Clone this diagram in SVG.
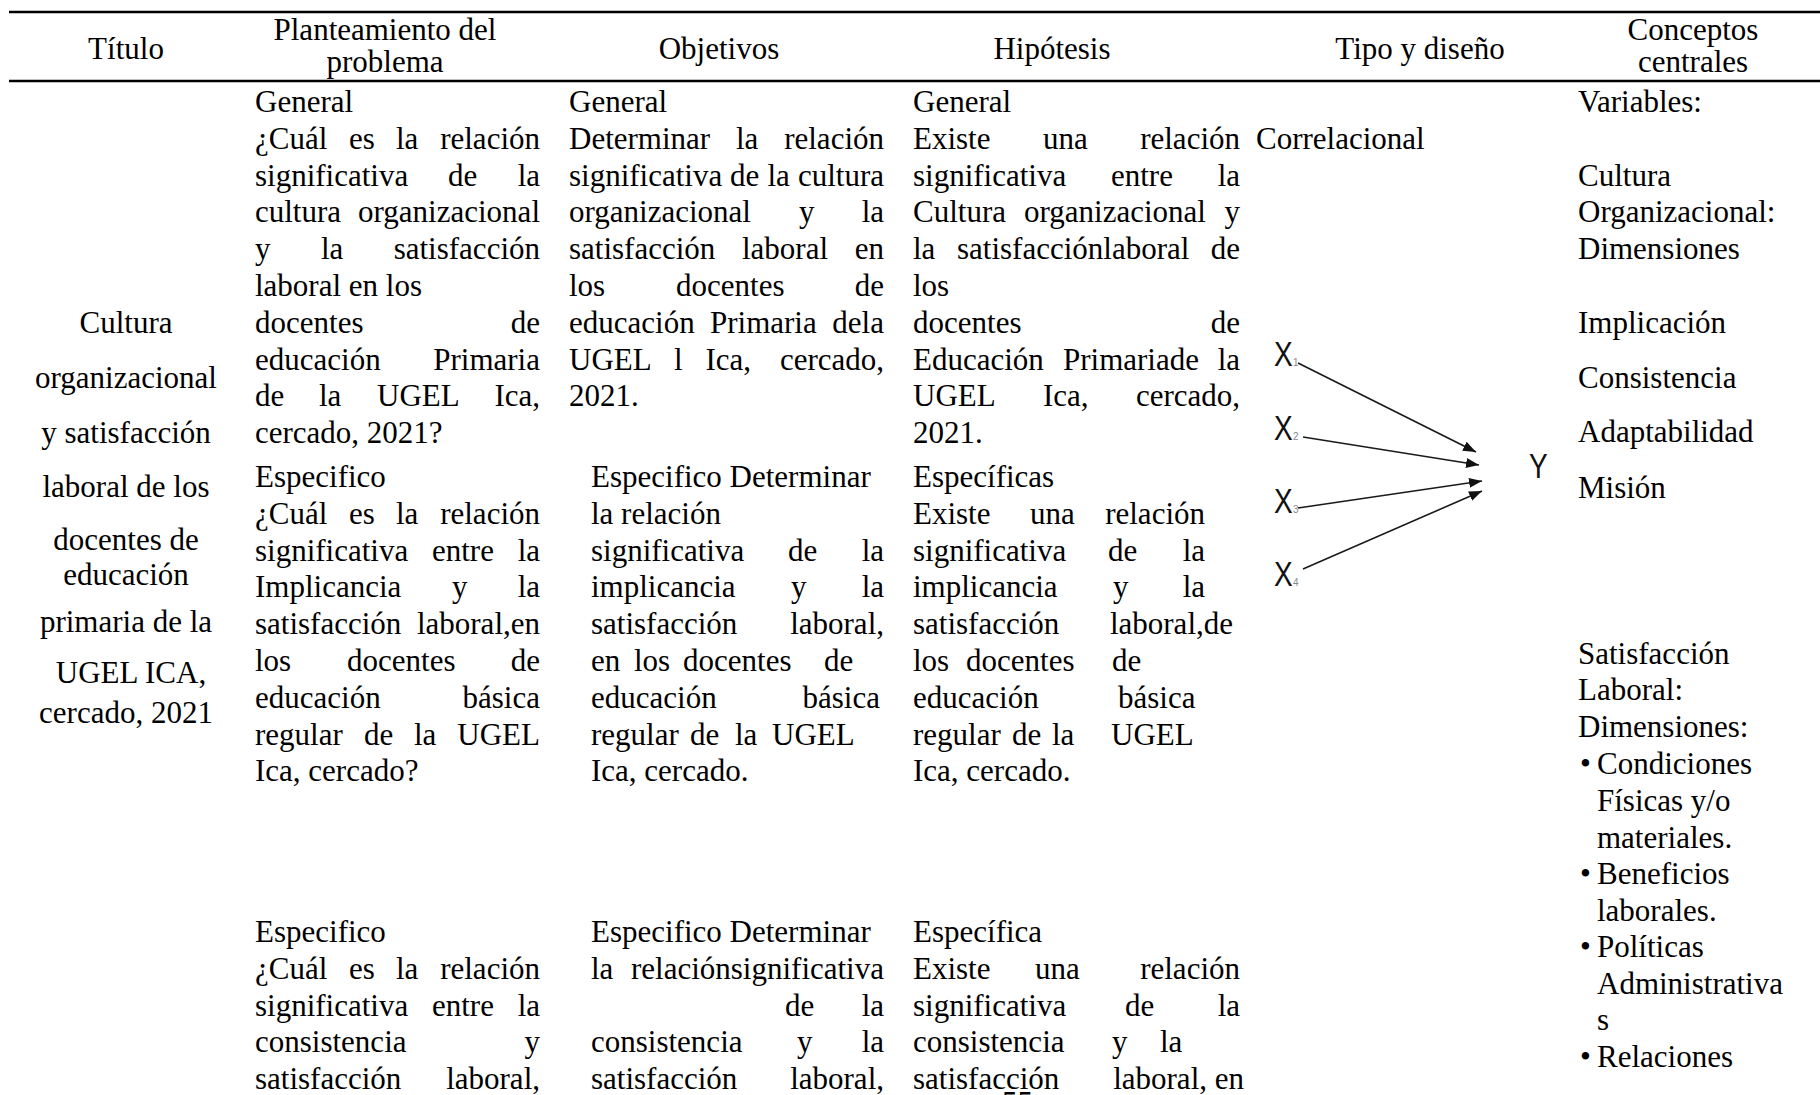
<svg xmlns="http://www.w3.org/2000/svg" width="1820" height="1095" viewBox="0 0 1820 1095">
<style>
.t{font-family:"Liberation Serif","Times New Roman",serif;font-size:31px;fill:#000}
.m{text-anchor:middle}
.e{text-anchor:end}
.x{font-family:"Liberation Sans",Arial,sans-serif;font-size:35px;fill:#111}
.s{font-family:"Liberation Sans",Arial,sans-serif;font-size:10px;fill:#888}
.rule{stroke:#000;stroke-width:2.5}
.arr{stroke:#1a1a1a;stroke-width:1.6;fill:none;marker-end:url(#ah)}
</style>
<defs>
<marker id="ah" markerUnits="userSpaceOnUse" markerWidth="13" markerHeight="10" refX="13" refY="5" orient="auto">
<path d="M0,0 L13,5 L0,10 z" fill="#111"/>
</marker>
</defs>
<rect width="1820" height="1095" fill="#fff"/>
<g id="rules">
<line class="rule" x1="9" y1="12" x2="1820" y2="12"/>
<line class="rule" x1="9" y1="81" x2="1820" y2="81"/>
</g>
<g id="header">
<text class="t m" x="126" y="59">Título</text>
<text class="t m" x="385" y="40">Planteamiento del</text>
<text class="t m" x="385" y="72">problema</text>
<text class="t m" x="719" y="59">Objetivos</text>
<text class="t m" x="1052" y="59">Hipótesis</text>
<text class="t m" x="1420" y="59">Tipo y diseño</text>
<text class="t m" x="1693" y="40">Conceptos</text>
<text class="t m" x="1693" y="72">centrales</text>
</g>
<g id="titulo">
<text class="t m" x="126" y="333">Cultura</text>
<text class="t m" x="126" y="388">organizacional</text>
<text class="t m" x="126" y="443">y satisfacción</text>
<text class="t m" x="126" y="497">laboral de los</text>
<text class="t m" x="126" y="550">docentes de</text>
<text class="t m" x="126" y="585">educación</text>
<text class="t m" x="126" y="632">primaria de la</text>
<text class="t m" x="131" y="683">UGEL ICA,</text>
<text class="t m" x="126" y="723">cercado, 2021</text>
</g>
<g id="planteamiento-general">
<text class="t" x="255" y="112">General</text>
<text class="t" y="148.8"><tspan x="255">¿Cuál</tspan><tspan x="349">es</tspan><tspan x="396">la</tspan></text><text class="t e" x="540" y="148.8">relación</text>
<text class="t" y="185.6"><tspan x="255">significativa</tspan><tspan x="448">de</tspan></text><text class="t e" x="540" y="185.6">la</text>
<text class="t" x="255" y="222.4">cultura</text><text class="t e" x="540" y="222.4">organizacional</text>
<text class="t" y="259.2"><tspan x="255">y</tspan><tspan x="321">la</tspan></text><text class="t e" x="540" y="259.2">satisfacción</text>
<text class="t" x="255" y="296">laboral en los</text>
<text class="t" x="255" y="332.8">docentes</text><text class="t e" x="540" y="332.8">de</text>
<text class="t" x="255" y="369.6">educación</text><text class="t e" x="540" y="369.6">Primaria</text>
<text class="t" y="406.4"><tspan x="255">de</tspan><tspan x="319">la</tspan><tspan x="377">UGEL</tspan></text><text class="t e" x="540" y="406.4">Ica,</text>
<text class="t" x="255" y="443.2">cercado, 2021?</text>
</g>
<g id="planteamiento-especifico-1">
<text class="t" x="255" y="487">Especifico</text>
<text class="t" y="523.8"><tspan x="255">¿Cuál</tspan><tspan x="349">es</tspan><tspan x="396">la</tspan></text><text class="t e" x="540" y="523.8">relación</text>
<text class="t" y="560.6"><tspan x="255">significativa</tspan><tspan x="432">entre</tspan></text><text class="t e" x="540" y="560.6">la</text>
<text class="t" y="597.4"><tspan x="255">Implicancia</tspan><tspan x="452">y</tspan></text><text class="t e" x="540" y="597.4">la</text>
<text class="t" x="255" y="634.2">satisfacción</text><text class="t e" x="540" y="634.2">laboral,en</text>
<text class="t" y="671"><tspan x="255">los</tspan><tspan x="347">docentes</tspan></text><text class="t e" x="540" y="671">de</text>
<text class="t" x="255" y="707.8">educación</text><text class="t e" x="540" y="707.8">básica</text>
<text class="t" y="744.6"><tspan x="255">regular</tspan><tspan x="364">de</tspan><tspan x="414">la</tspan></text><text class="t e" x="540" y="744.6">UGEL</text>
<text class="t" x="255" y="781.4">Ica, cercado?</text>
</g>
<g id="planteamiento-especifico-2">
<text class="t" x="255" y="942">Especifico</text>
<text class="t" y="978.8"><tspan x="255">¿Cuál</tspan><tspan x="349">es</tspan><tspan x="396">la</tspan></text><text class="t e" x="540" y="978.8">relación</text>
<text class="t" y="1015.6"><tspan x="255">significativa</tspan><tspan x="432">entre</tspan></text><text class="t e" x="540" y="1015.6">la</text>
<text class="t" x="255" y="1052.4">consistencia</text><text class="t e" x="540" y="1052.4">y</text>
<text class="t" x="255" y="1089.2">satisfacción</text><text class="t e" x="540" y="1089.2">laboral,</text>
</g>
<g id="objetivos-general">
<text class="t" x="569" y="112">General</text>
<text class="t" y="148.8"><tspan x="569">Determinar</tspan><tspan x="736">la</tspan></text><text class="t e" x="884" y="148.8">relación</text>
<text class="t" y="185.6"><tspan x="569">significativa</tspan><tspan x="730">de</tspan><tspan x="767.5">la</tspan></text><text class="t e" x="884" y="185.6">cultura</text>
<text class="t" y="222.4"><tspan x="569">organizacional</tspan><tspan x="799">y</tspan></text><text class="t e" x="884" y="222.4">la</text>
<text class="t" y="259.2"><tspan x="569">satisfacción</tspan><tspan x="742">laboral</tspan></text><text class="t e" x="884" y="259.2">en</text>
<text class="t" y="296"><tspan x="569">los</tspan><tspan x="676">docentes</tspan></text><text class="t e" x="884" y="296">de</text>
<text class="t" y="332.8"><tspan x="569">educación</tspan><tspan x="710">Primaria</tspan></text><text class="t e" x="884" y="332.8">dela</text>
<text class="t" y="369.6"><tspan x="569">UGEL</tspan><tspan x="674">l</tspan><tspan x="705.5">Ica,</tspan></text><text class="t e" x="884" y="369.6">cercado,</text>
<text class="t" x="569" y="406.4">2021.</text>
</g>
<g id="objetivos-especifico-1">
<text class="t" x="591" y="487">Especifico Determinar</text>
<text class="t" x="591" y="523.8">la relación</text>
<text class="t" y="560.6"><tspan x="591">significativa</tspan><tspan x="788">de</tspan></text><text class="t e" x="884" y="560.6">la</text>
<text class="t" y="597.4"><tspan x="591">implicancia</tspan><tspan x="791">y</tspan></text><text class="t e" x="884" y="597.4">la</text>
<text class="t" x="591" y="634.2">satisfacción</text><text class="t e" x="884" y="634.2">laboral,</text>
<text class="t" y="671"><tspan x="591">en</tspan><tspan x="634">los</tspan><tspan x="683">docentes</tspan><tspan x="824">de</tspan></text>
<text class="t" x="591" y="707.8">educación</text><text class="t e" x="880" y="707.8">básica</text>
<text class="t" y="744.6"><tspan x="591">regular</tspan><tspan x="690">de</tspan><tspan x="735">la</tspan><tspan x="772">UGEL</tspan></text>
<text class="t" x="591" y="781.4">Ica, cercado.</text>
</g>
<g id="objetivos-especifico-2">
<text class="t" x="591" y="942">Especifico Determinar</text>
<text class="t" x="591" y="978.8">la</text><text class="t e" x="884" y="978.8">relaciónsignificativa</text>
<text class="t" x="785" y="1015.6">de</text><text class="t e" x="884" y="1015.6">la</text>
<text class="t" y="1052.4"><tspan x="591">consistencia</tspan><tspan x="797">y</tspan></text><text class="t e" x="884" y="1052.4">la</text>
<text class="t" x="591" y="1089.2">satisfacción</text><text class="t e" x="884" y="1089.2">laboral,</text>
</g>
<g id="hipotesis-general">
<text class="t" x="913" y="112">General</text>
<text class="t" y="148.8"><tspan x="913">Existe</tspan><tspan x="1043">una</tspan></text><text class="t e" x="1240" y="148.8">relación</text>
<text class="t" y="185.6"><tspan x="913">significativa</tspan><tspan x="1111">entre</tspan></text><text class="t e" x="1240" y="185.6">la</text>
<text class="t" y="222.4"><tspan x="913">Cultura</tspan><tspan x="1024">organizacional</tspan></text><text class="t e" x="1240" y="222.4">y</text>
<text class="t" y="259.2"><tspan x="913">la</tspan><tspan x="957">satisfacciónlaboral</tspan></text><text class="t e" x="1240" y="259.2">de</text>
<text class="t" x="913" y="296">los</text>
<text class="t" x="913" y="332.8">docentes</text><text class="t e" x="1240" y="332.8">de</text>
<text class="t" y="369.6"><tspan x="913">Educación</tspan><tspan x="1063">Primariade</tspan></text><text class="t e" x="1240" y="369.6">la</text>
<text class="t" y="406.4"><tspan x="913">UGEL</tspan><tspan x="1043">Ica,</tspan></text><text class="t e" x="1240" y="406.4">cercado,</text>
<text class="t" x="913" y="443.2">2021.</text>
</g>
<g id="hipotesis-especificas">
<text class="t" x="913" y="487">Específicas</text>
<text class="t" y="523.8"><tspan x="913">Existe</tspan><tspan x="1030">una</tspan></text><text class="t e" x="1205" y="523.8">relación</text>
<text class="t" y="560.6"><tspan x="913">significativa</tspan><tspan x="1108">de</tspan></text><text class="t e" x="1205" y="560.6">la</text>
<text class="t" y="597.4"><tspan x="913">implicancia</tspan><tspan x="1113">y</tspan></text><text class="t e" x="1205" y="597.4">la</text>
<text class="t" x="913" y="634.2">satisfacción</text><text class="t e" x="1233" y="634.2">laboral,de</text>
<text class="t" y="671"><tspan x="913">los</tspan><tspan x="966">docentes</tspan><tspan x="1112">de</tspan></text>
<text class="t" y="707.8"><tspan x="913">educación</tspan><tspan x="1118">básica</tspan></text>
<text class="t" y="744.6"><tspan x="913">regular</tspan><tspan x="1012">de</tspan><tspan x="1052">la</tspan><tspan x="1111">UGEL</tspan></text>
<text class="t" x="913" y="781.4">Ica, cercado.</text>
</g>
<g id="hipotesis-especifica">
<text class="t" x="913" y="942">Específica</text>
<text class="t" y="978.8"><tspan x="913">Existe</tspan><tspan x="1035">una</tspan></text><text class="t e" x="1240" y="978.8">relación</text>
<text class="t" y="1015.6"><tspan x="913">significativa</tspan><tspan x="1125">de</tspan></text><text class="t e" x="1240" y="1015.6">la</text>
<text class="t" y="1052.4"><tspan x="913">consistencia</tspan><tspan x="1112">y</tspan><tspan x="1160">la</tspan></text>
<text class="t" x="913" y="1089.2">satisfacción</text><text class="t e" x="1244" y="1089.2">laboral, en</text>
<text class="t" x="1002" y="1113">55</text>
</g>
<g id="tipo">
<text class="t" x="1256" y="148.8">Correlacional</text>
</g>
<g id="diagram-nodes">
<g id="x1"><text class="x" transform="translate(1274,366) scale(0.8,1)">X</text><text class="s" x="1293" y="366">1</text></g>
<g id="x2"><text class="x" transform="translate(1274,440) scale(0.8,1)">X</text><text class="s" x="1293" y="440">2</text></g>
<g id="x3"><text class="x" transform="translate(1274,513) scale(0.8,1)">X</text><text class="s" x="1293" y="513">3</text></g>
<g id="x4"><text class="x" transform="translate(1274,586) scale(0.8,1)">X</text><text class="s" x="1293" y="586">4</text></g>
<g id="y"><text class="x" transform="translate(1529,478) scale(0.8,1)">Y</text></g>
</g>
<g id="connectors">
<line class="arr" x1="1298" y1="363" x2="1476" y2="452"/>
<line class="arr" x1="1303" y1="437" x2="1479" y2="465"/>
<line class="arr" x1="1298" y1="508" x2="1482" y2="481"/>
<line class="arr" x1="1303" y1="569" x2="1482" y2="491"/>
</g>
<g id="conceptos">
<text class="t" x="1578" y="112">Variables:</text>
<text class="t" x="1578" y="185.6">Cultura</text>
<text class="t" x="1578" y="222.4">Organizacional:</text>
<text class="t" x="1578" y="259.2">Dimensiones</text>
<text class="t" x="1578" y="333">Implicación</text>
<text class="t" x="1578" y="388">Consistencia</text>
<text class="t" x="1578" y="442">Adaptabilidad</text>
<text class="t" x="1578" y="498">Misión</text>
<text class="t" x="1578" y="664">Satisfacción</text>
<text class="t" x="1578" y="700">Laboral:</text>
<text class="t" x="1578" y="737">Dimensiones:</text>
<text class="t" x="1580" y="774">•</text><text class="t" x="1597" y="774">Condiciones</text>
<text class="t" x="1597" y="811">Físicas y/o</text>
<text class="t" x="1597" y="848">materiales.</text>
<text class="t" x="1580" y="884">•</text><text class="t" x="1597" y="884">Beneficios</text>
<text class="t" x="1597" y="921">laborales.</text>
<text class="t" x="1580" y="957">•</text><text class="t" x="1597" y="957">Políticas</text>
<text class="t" x="1597" y="994">Administrativa</text>
<text class="t" x="1597" y="1030">s</text>
<text class="t" x="1580" y="1067">•</text><text class="t" x="1597" y="1067">Relaciones</text>
</g>
</svg>
